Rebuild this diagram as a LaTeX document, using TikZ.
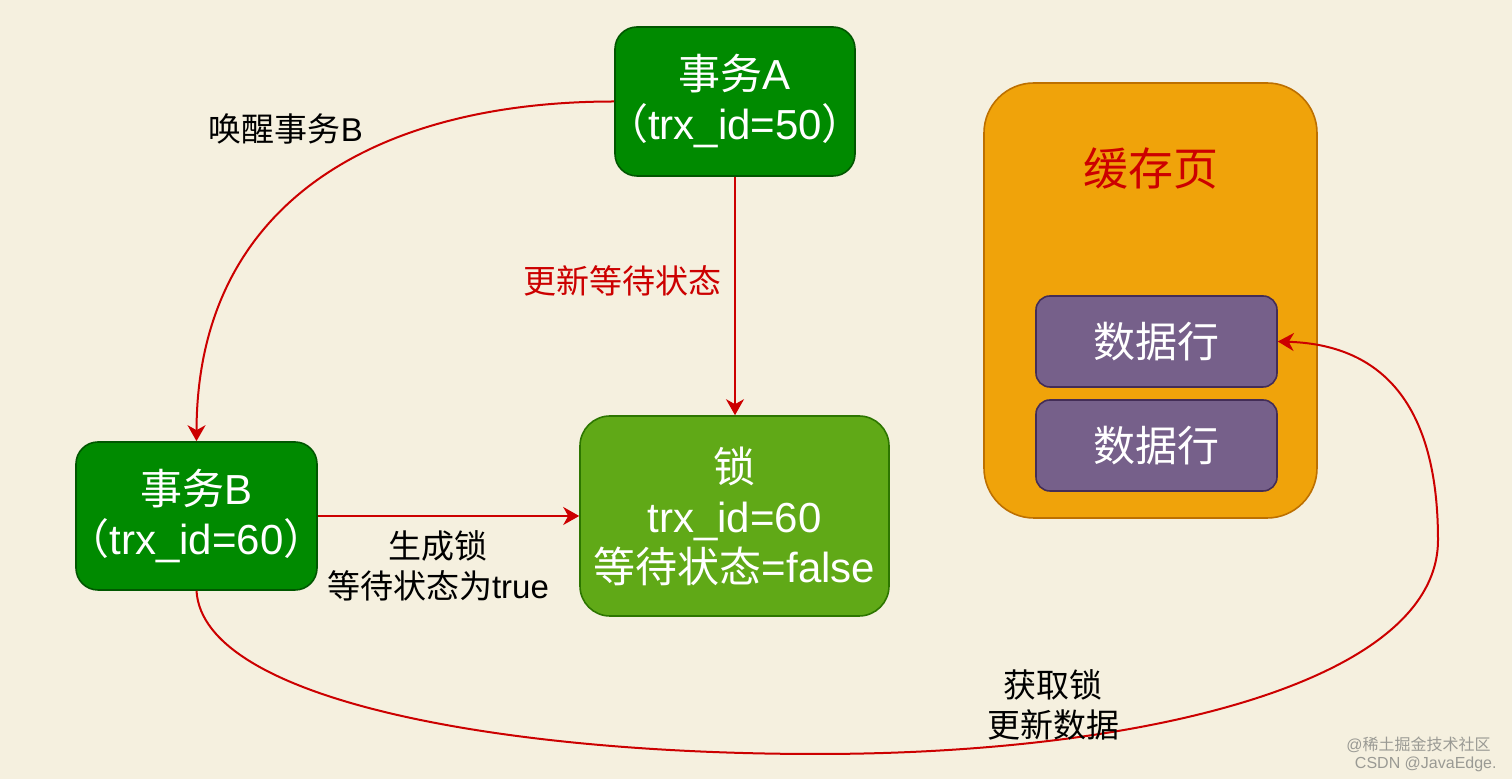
\documentclass[tikz,border=0pt]{standalone}
\usepackage{fontspec}
\setmainfont{Liberation Sans}
\newfontfamily\cjk{Noto Sans CJK SC}
\usetikzlibrary{arrows.meta}
\definecolor{bg}{HTML}{F5F0DF}
\definecolor{dgfill}{HTML}{008A00}
\definecolor{dgline}{HTML}{005700}
\definecolor{lgfill}{HTML}{60A917}
\definecolor{lgline}{HTML}{2D7600}
\definecolor{orfill}{HTML}{F0A30A}
\definecolor{orline}{HTML}{BD7000}
\definecolor{pufill}{HTML}{76608A}
\definecolor{puline}{HTML}{432D57}
\definecolor{edgered}{HTML}{CC0000}
\definecolor{wmgray}{HTML}{9A9A94}
\newcommand{\lpar}{\kern-0.4em{\cjk （}}
\newcommand{\rpar}{{\cjk ）}\kern-0.4em}
\tikzset{
  box/.style={draw, line width=0.8pt, text=white, align=center, inner sep=0pt,
    font=\fontsize{21}{25}\selectfont},
  trx/.style={box, fill=dgfill, draw=dgline, rounded corners=11pt},
  lockbox/.style={box, fill=lgfill, draw=lgline, rounded corners=15pt},
  cachebox/.style={draw, line width=0.8pt, fill=orfill, draw=orline, rounded corners=25pt, inner sep=0pt},
  rowbox/.style={box, fill=pufill, draw=puline, rounded corners=7pt},
  conn/.style={draw=edgered, line width=1pt, -{Stealth[length=8pt,width=9pt,inset=2.5pt]}},
  lbl/.style={align=center, inner sep=0pt, font=\fontsize{16.5}{20}\selectfont},
  wm/.style={inner sep=0pt, text=wmgray, font=\fontsize{8}{9}\selectfont, anchor=east}
}
\begin{document}
\begin{tikzpicture}[x=0.5pt,y=-0.5pt]
\fill[bg] (0,0) rectangle (1512,779);
\useasboundingbox (0,0) rectangle (1512,779);

\node[cachebox, minimum width=166.5pt, minimum height=217.5pt] (C) at (1150.5,300.5) {};
\node[inner sep=0pt, text=edgered, font=\fontsize{22.5}{26}\selectfont] (Ct) at (1151,168) {\cjk 缓存页};
\node[rowbox, minimum width=120.5pt, minimum height=45.5pt] (R1) at (1156.5,341.5) {\cjk 数据行};
\node[rowbox, minimum width=120.5pt, minimum height=45.5pt] (R2) at (1156.5,445.5) {\cjk 数据行};

\node[trx, minimum width=120pt, minimum height=74.5pt] (A) at (735,101.5)
  {{\cjk 事务}A\\\lpar trx\_id=50\rpar};
\node[trx, minimum width=120.5pt, minimum height=74pt] (B) at (196.5,516)
  {{\cjk 事务}B\\\lpar trx\_id=60\rpar};
\node[lockbox, minimum width=154.5pt, minimum height=100pt] (L) at (734.5,516)
  {{\cjk 锁}\\trx\_id=60\\{\cjk 等待状态}=false};

% edges
\draw[conn] (A.west) .. controls (380,101.5) and (197,200) .. (B.north);
\draw[conn] (A.south) -- (A.south |- L.north);
\draw[conn] (B.east) -- (L.west);
\draw[conn] (B.south) .. controls (203,700) and (500,754) .. (817,754)
  .. controls (1150,754) and (1438,680) .. (1438,540)
  .. controls (1438,380) and (1360,344) .. (R1.east);

% labels
\node[lbl] (l1) at (286,129) {{\cjk 唤醒事务}B};
\node[lbl, text=edgered] (l2) at (622,281) {\cjk 更新等待状态};
\node[lbl] (l3) at (438,566) {{\cjk 生成锁}\\{\cjk 等待状态为}true};
\node[lbl] (l4) at (1053,705) {\cjk 获取锁\\\cjk 更新数据};

% watermark
\node[wm] (w1) at (1491,745) {@{\cjk 稀土掘金技术社区}};
\node[wm] (w2) at (1497,764) {CSDN @JavaEdge.};
\end{tikzpicture}
\end{document}
